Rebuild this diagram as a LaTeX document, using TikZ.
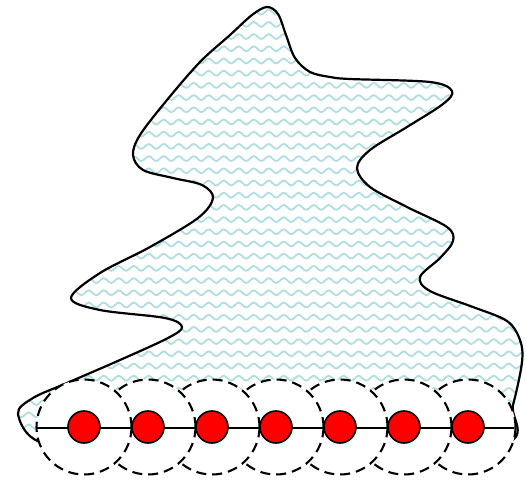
\documentclass[tikz,border=0pt]{standalone}
\usetikzlibrary{shapes.geometric}
\definecolor{wavecol}{RGB}{176,222,226}
\tikzset{
  outline/.style={line width=2.2pt, black, line join=round},
  waveline/.style={line width=1.8pt, wavecol},
  ring/.style={circle, draw=black, fill=white, line width=2.1pt, dash pattern=on 10pt off 6pt, minimum size=95pt, inner sep=0pt},
  dot/.style={circle, draw=black, fill=red, line width=1.6pt, minimum size=32pt, inner sep=0pt},
  axis/.style={line width=2pt, black}
}
\def\blobpath{plot[smooth cycle, tension=0.55] coordinates {
(40,442) (18,414) (33,398) (67,383) (120,360) (168,338) (182,327) (165,318) (100,310) (71,298)
(100,273) (150,247) (198,218) (213,198) (202,185) (173,178) (143,170) (133,155) (140,135) (167,100)
(200,62) (230,35) (252,15) (267,7) (278,14) (286,35) (295,58) (310,72) (330,77) (350,79) (430,82) (452,91)
(443,104) (407,127) (370,150) (357,168) (370,187) (407,207) (447,227) (453,241) (440,258) (420,277)
(430,291) (473,307) (507,321) (520,340) (522,362) (513,405) (500,445) (300,450) (120,450)}}
\begin{document}
\begin{tikzpicture}[x=1pt,y=-1pt]
\useasboundingbox (0,0) rectangle (526,479);
% pattern fill
\begin{scope}
\clip \blobpath;
\foreach \r in {0,...,40}{
  \draw[waveline] (-5,{\r*12.2}) foreach \k in {0,...,36}{ sin ++(3.75,-2.4) cos ++(3.75,2.4) sin ++(3.75,2.4) cos ++(3.75,-2.4) };
}
\end{scope}
\draw[outline] \blobpath;
% dashed rings, drawn right to left
\foreach \i in {7,6,...,1}{
  \node[ring] (c\i) at ({84+64*(\i-1)},427) {};
}
\coordinate (L) at (37,428);
\coordinate (R) at (514,428);
\draw[axis] (L) -- (R);
\foreach \i in {1,...,7}{
  \node[dot] (d\i) at (c\i.center) {};
}
\end{tikzpicture}
\end{document}
